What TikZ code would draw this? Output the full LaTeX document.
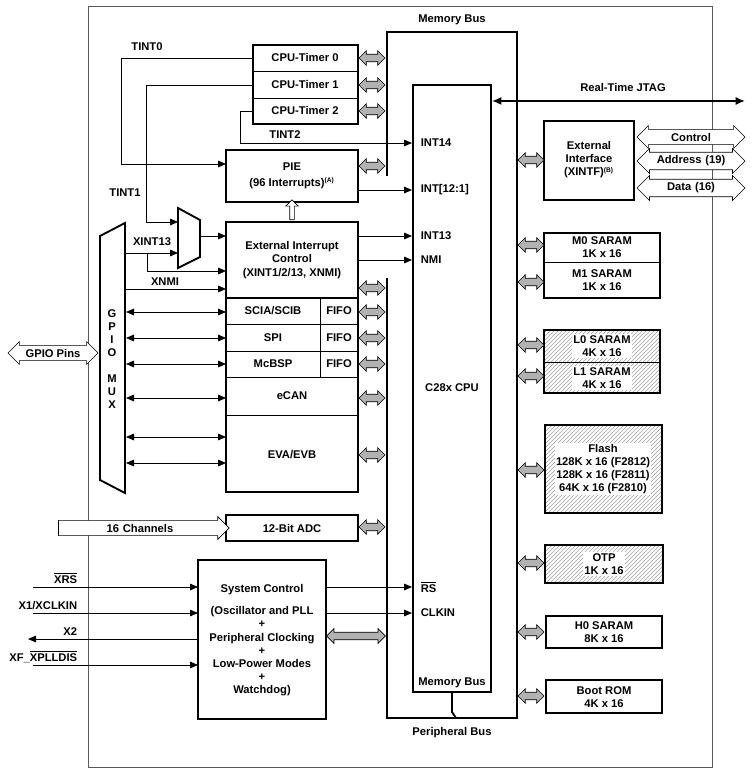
\documentclass[tikz,border=0pt]{standalone}
\usepackage{fontspec}
\setmainfont{Liberation Sans}
\usetikzlibrary{shapes.arrows, patterns, arrows.meta}
\newcommand{\ovl}[1]{$\overline{\mbox{#1}}$}

\begin{document}
\begin{tikzpicture}[x=0.75pt, y=-0.75pt,
		font=\fontsize{8.4}{9.8}\selectfont\bfseries,
		line width=0.6pt,
		sig/.style={-{Triangle[length=6pt,width=5pt]}},
		bisig/.style={{Triangle[length=6pt,width=5pt]}-{Triangle[length=6pt,width=5pt]}},
		thk/.style={line width=1.4pt},
		bus/.style={double arrow, draw, fill=gray!60, line width=0.5pt, inner sep=2.6pt,
			double arrow head extend=2.6pt, minimum height=19.5pt},
		pin/.style={double arrow, draw, fill=white, line width=0.5pt, inner sep=2.4pt,
			double arrow head extend=2.8pt},
		hatch/.style={pattern=north east lines, pattern color=gray!75},
		lbl/.style={fill=white, inner sep=1pt, align=center}]
	\useasboundingbox (0,0) rectangle (754,773);

	% frame of the chip
	\draw[gray!70!black, line width=0.5pt] (88,6) -- (712,6) -- (712,767) -- (88,767) -- cycle;

	% memory bus and CPU
	\draw[thk] (387,176) -- (387,32) -- (517,32) -- (517,718) -- (387,718) -- (387,278);
	\draw[thk] (413,85) rectangle (491,692);
	\draw[thk] (452,692) -- (452,712) -- (456,718);
	\node (mbus) at (452,20) {Memory Bus};
	\node (pbus) at (452,733) {Peripheral Bus};
	\node (cpu) at (452,388) {C28x CPU};
	\node (mbus2) at (452,683) {Memory Bus};
	\draw[{Latex[length=7pt,width=6pt]}-{Latex[length=7pt,width=6pt]}, line width=1.2pt] (492,101) -- (745,101);
	\node (jtag) at (623,88) {Real-Time JTAG};

	% CPU timers
	\draw[thk] (253,45) rectangle (358,124);
	\draw (253,71) -- (358,71) (253,98) -- (358,98);
	\node (t0) at (305,58) {CPU-Timer 0};
	\node (t1) at (305,85) {CPU-Timer 1};
	\node (t2) at (305,111) {CPU-Timer 2};
	\foreach \y in {58,85,111,166} \node[bus] at (372,\y) {};

	% PIE
	\draw[thk] (226,150) rectangle (358,202);
	\node[align=center] (pie) at (292,176) {PIE\\[2pt](96 Interrupts)\textsuperscript{\tiny(A)}};

	% timer interrupts
	\draw[sig] (253,111) -- (240,111) -- (240,143) -- (412,143);
	\node (tint2) at (285,135) {TINT2};
	\node[anchor=west] (int14) at (416,143) {INT14};
	\draw[sig] (253,58) -- (121,58) -- (121,164) -- (226,164);
	\node (tint0) at (147,47) {TINT0};
	\draw[sig] (253,85) -- (146,85) -- (146,222) -- (178,222);
	\node (tint1) at (125,193) {TINT1};
	\draw[sig] (358,190) -- (412,190);
	\node[anchor=west] (int121) at (416,190) {INT[12:1]};

	% mux for XINT13
	\draw[thk] (178,208) -- (200,220) -- (200,257) -- (178,268) -- cycle;
	\draw[sig] (200,236) -- (226,236);
	\draw[sig] (125,253) -- (178,253);
	\draw[sig] (147,253) -- (147,271) -- (226,271);
	\node (xint13) at (152,242) {XINT13};
	\draw[sig] (125,289) -- (226,289);
	\node (xnmi) at (165,282) {XNMI};

	% external interrupt control
	\draw[thk] (226,222) rectangle (358,298);
	\node[align=center] (xint) at (292,260) {External Interrupt\\Control\\[1pt](XINT1/2/13, XNMI)};
	\node[single arrow, draw, fill=white, rotate=90, minimum height=15pt, inner sep=1.5pt,
		single arrow head extend=3pt, line width=0.5pt] (up) at (292,211) {};
	\draw[sig] (358,236) -- (412,236);
	\node[anchor=west] (int13) at (416,236) {INT13};
	\draw[sig] (358,260) -- (412,260);
	\node[anchor=west] (nmi) at (416,260) {NMI};

	% serial ports and event managers
	\draw[thk] (226,298) rectangle (358,492);
	\draw (226,324) -- (358,324) (226,351) -- (358,351) (226,377) -- (358,377) (226,415) -- (358,415);
	\draw (320,298) -- (320,377);
	\node (sci) at (273,311) {SCIA/SCIB};
	\node (spi) at (273,338) {SPI};
	\node (mcbsp) at (273,364) {McBSP};
	\foreach \y in {311,338,364} \node at (339,\y) {FIFO};
	\node (ecan) at (292,396) {eCAN};
	\node (ev) at (292,455) {EVA/EVB};
	\foreach \y in {312,338,364,398,437,463} \draw[bisig] (126,\y) -- (226,\y);
	\foreach \y in {288,312,338,364,398,455,527} \node[bus] at (372,\y) {};

	% GPIO mux
	\draw[thk] (100,236) -- (125,223) -- (125,493) -- (100,480) -- cycle;
	\foreach \c [count=\i] in {G,P,I,O,,M,U,X} \node at (112,301+13*\i) {\c};
	\node[pin, minimum height=67.5pt] (gpio) at (53,353) {GPIO Pins};

	% ADC
	\draw[thk] (226,515) rectangle (358,541);
	\node (adc) at (292,528) {12-Bit ADC};
	\node[single arrow, draw, fill=white, line width=0.5pt, inner sep=2.4pt, single arrow head extend=2.8pt,
		minimum height=128pt, text width=100pt, align=center] (ch) at (140,528) {16 Channels};

	% system control
	\draw[thk] (198,560) rectangle (326,719);
	\node[align=center] (sys) at (262,640) {System Control\\[7pt](Oscillator and PLL\\+\\Peripheral Clocking\\+\\Low-Power Modes\\+\\Watchdog)};
	\draw[sig] (33,587) -- (198,587);
	\draw[sig] (33,613) -- (198,613);
	\draw[sig] (198,639) -- (28,639);
	\draw[sig] (33,665) -- (198,665);
	\node[anchor=base east] (xrs) at (82,583) {\ovl{XRS}};
	\node[anchor=base east] (x1) at (82,609) {X1/XCLKIN};
	\node[anchor=base east] (x2) at (82,635) {X2};
	\node[anchor=base east] (xf) at (82,661) {XF\_\ovl{XPLLDIS}};
	\draw[sig] (326,587) -- (412,587);
	\node[anchor=west] (rs) at (416,587) {\ovl{RS}};
	\draw[sig] (326,613) -- (412,613);
	\node[anchor=west] (clkin) at (416,613) {CLKIN};
	\node[bus, minimum height=44pt] at (356,636) {};

	% external interface
	\draw[thk] (544,121) rectangle (634,200);
	\node[align=center] (xintf) at (589,160) {External\\Interface\\(XINTF)\textsuperscript{\tiny(B)}};
	\node[pin, minimum height=81pt, text width=58pt, align=center] (ctl) at (691,137) {Control};
	\node[pin, minimum height=81pt, text width=58pt, align=center] (addr) at (691,161) {Address (19)};
	\node[pin, minimum height=81pt, text width=58pt, align=center] (data) at (691,188) {Data (16)};

	% memories
	\draw[thk] (544,233) rectangle (660,298);
	\draw (544,262) -- (660,262);
	\node[align=center] (m0) at (602,247) {M0 SARAM\\1K x 16};
	\node[align=center] (m1) at (602,280) {M1 SARAM\\1K x 16};
	\draw[hatch] (544,330) rectangle (660,393);
	\draw[thk] (544,330) rectangle (660,393);
	\draw (544,362) -- (660,362);
	\node[lbl] (l0) at (602,346) {L0 SARAM\\4K x 16};
	\node[lbl] (l1) at (602,378) {L1 SARAM\\4K x 16};
	\draw[hatch] (545,425) rectangle (662,513);
	\draw[thk] (545,425) rectangle (662,513);
	\node[lbl] (flash) at (603,469) {Flash\\128K x 16 (F2812)\\128K x 16 (F2811)\\64K x 16 (F2810)};
	\draw[hatch] (545,545) rectangle (663,583);
	\draw[thk] (545,545) rectangle (663,583);
	\node[lbl] (otp) at (604,564) {OTP\\1K x 16};
	\draw[thk] (546,616) rectangle (662,648);
	\node[align=center] (h0) at (604,632) {H0 SARAM\\8K x 16};
	\draw[thk] (546,680) rectangle (662,713);
	\node[align=center] (boot) at (604,697) {Boot ROM\\4K x 16};
	\foreach \y in {160,245,282,345,376,470,563,632,696} \node[bus] at (531,\y) {};
\end{tikzpicture}
\end{document}
